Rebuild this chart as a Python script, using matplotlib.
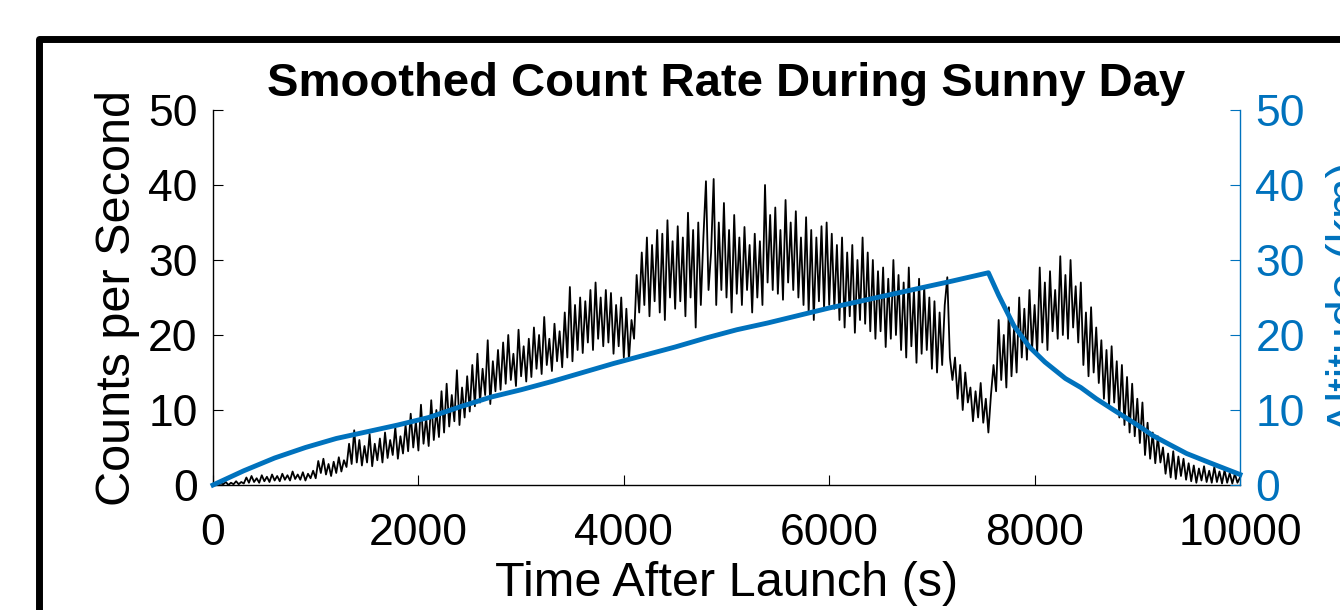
import numpy as np
import matplotlib
matplotlib.use('Agg')
import matplotlib.pyplot as plt
from matplotlib.patches import Rectangle

plt.rcParams['font.family'] = ['Liberation Sans', 'DejaVu Sans']

# counts per second, one reading every 25 s from 0 to 10000 s
count_step = 25
counts = [
    0.0, 0.3, 0.0, 0.2, 0.1, 0.4, 0.0, 0.3, 0.1, 0.5, 0.1, 0.4, 0.2,
    1.0, 0.3, 1.2, 0.4, 0.9, 0.3, 1.3, 0.5, 1.1, 0.4, 1.4, 0.6, 1.2, 0.5,
    1.5, 0.7, 1.3, 0.6, 1.8, 0.8, 1.4, 0.7, 1.7, 0.6, 1.5, 0.9, 1.9, 0.9,
    3.2, 1.6, 3.5, 1.4, 2.8, 1.2, 3.1, 1.6, 3.7, 1.8, 3.3,
    2.4, 5.5, 2.8, 7.3, 3.0,
    6.0, 2.6, 5.2, 3.0, 6.8, 2.5, 5.5, 3.3, 6.2, 3.0,
    7.0, 3.6, 6.0, 4.0, 7.7, 3.5, 6.5, 4.2,
    8.0, 4.5, 9.5, 5.0, 8.5, 4.6, 10.7, 5.5, 9.0, 5.2,
    11.3, 6.0, 10.0, 6.4,
    12.5, 7.0, 13.5, 7.8, 12.0, 8.5, 15.3, 8.0, 13.0, 9.0, 14.5, 9.8,
    16.0, 10.5, 17.5, 11.0, 15.5, 12.0, 19.3, 10.8, 16.5, 12.5, 18.0,
    12.7, 19.0, 13.5, 20.0, 14.0, 17.5, 13.2, 20.7, 14.5, 18.5, 13.8, 19.5,
    14.4, 21.0, 15.5, 20.0, 14.8, 22.4, 16.0, 19.5, 15.2, 21.5, 16.5, 20.5,
    15.7, 23.0, 17.0, 26.4, 16.5, 24.0, 18.0, 25.0,
    17.6, 24.5, 19.0, 26.0, 18.0, 27.0, 19.5, 25.0, 18.5, 26.0,
    19.0, 25.6, 17.5, 24.0, 18.5, 25.0, 17.0, 23.5, 16.7,
    22.0, 19.5, 28.0,
    23.0, 31.0, 24.0, 33.0, 22.5, 32.0,
    24.5, 34.0, 23.0, 33.5, 22.0, 35.3, 25.0, 32.5, 23.5, 34.5, 24.5, 33.0,
    22.5,
    36.3, 25.0, 34.0, 21.0, 35.0, 24.0, 33.0,
    40.5, 26.0, 31.0, 40.8, 24.0,
    35.0, 26.0, 37.6, 25.0, 34.0, 23.0, 36.0, 25.5,
    33.0, 24.0, 34.4, 26.0, 32.0, 23.0, 33.5, 25.0, 32.5, 24.0,
    40.0, 27.0,
    36.0, 26.0, 37.0, 25.5, 34.0, 24.7, 38.0, 27.0, 35.0, 26.0, 36.5, 25.0,
    33.0, 24.0, 35.7, 23.0, 34.0, 22.0, 33.0, 24.5, 34.5, 23.5, 35.0, 24.0,
    33.5, 23.5, 32.0, 22.0,
    33.0, 21.0, 31.0, 22.5, 32.0, 20.3, 30.0, 22.0, 33.0, 21.5, 31.0, 20.5,
    30.0, 19.5, 28.5, 20.5, 29.0, 18.4, 27.5, 19.5, 30.0, 20.0, 28.0,
    18.0, 27.0, 17.0, 29.0, 18.5, 26.0, 16.3, 27.5, 17.5, 26.5, 18.0, 25.0,
    15.5, 24.5, 15.0, 23.0, 16.0, 24.0, 27.7, 17.0, 14.0,
    17.0, 11.5, 16.0, 10.0, 15.0, 11.0,
    13.0, 8.5, 12.5, 9.0, 13.6, 8.3, 11.5, 7.0,
    12.0, 16.0, 12.5, 22.0, 14.0,
    20.0, 13.0, 23.7, 14.5, 21.0, 15.0,
    25.0, 17.0, 23.5, 16.7, 26.0, 18.0, 24.0, 17.5,
    29.0, 19.0, 27.0, 18.0, 28.5, 20.5, 26.0, 19.5, 30.5,
    20.0, 28.0, 19.5, 30.0, 21.0, 26.5, 19.0,
    27.0, 16.0, 23.0, 14.5, 23.7, 15.0, 21.0,
    13.6, 19.3, 11.5, 18.0, 10.5, 18.5, 11.0, 16.5, 9.0, 16.0,
    8.0, 14.4, 7.0, 13.5, 6.5, 11.5, 5.6, 11.0,
    4.0, 8.3, 3.5, 7.0, 2.9, 6.5, 3.0,
    5.0, 1.5, 4.2, 1.0, 4.5, 0.8, 3.8, 1.2, 3.5, 0.7,
    2.9, 0.5, 2.6, 0.3, 2.2, 0.6, 2.5, 0.4, 1.9, 0.3,
    2.4, 0.4, 1.8, 0.2, 2.0, 0.3, 1.6, 0.2, 1.5, 0.3, 1.0,
]
count_time = np.arange(len(counts)) * count_step

# balloon altitude (km)
alt_time = [0, 300, 600, 900, 1200, 1500, 1800, 2100, 2400, 2700,
            3000, 3300, 3600, 3900, 4200, 4500, 4800, 5100, 5400, 5700,
            6000, 6300, 6600, 6900, 7200, 7550, 7650, 7800, 7950, 8100,
            8300, 8450, 8600, 8770, 9000, 9150, 9300, 9480, 9700, 10000]
altitude = [0.0, 1.9, 3.6, 5.0, 6.2, 7.1, 8.0, 9.0, 10.4, 11.7,
            12.7, 13.8, 15.0, 16.2, 17.3, 18.4, 19.6, 20.7, 21.6, 22.6,
            23.6, 24.5, 25.4, 26.3, 27.2, 28.3, 25.3, 21.2, 18.4, 16.4,
            14.2, 13.0, 11.5, 10.0, 8.0, 6.6, 5.5, 4.2, 3.0, 1.4]

x_ticks = [0, 2000, 4000, 6000, 8000, 10000]
y_ticks = [0, 10, 20, 30, 40, 50]

blue = '#0072BD'
fs = 32      # tick labels
fs_lab = 35  # axis labels

fig = plt.figure(figsize=(13.4, 6.1), dpi=100)
ax = fig.add_axes([213 / 1340, 1 - 485 / 610, 1027 / 1340, 375 / 610])
ax2 = ax.twinx()

ax.plot(count_time, counts, color='k', linewidth=1.3, zorder=3)
ax2.plot(alt_time, altitude, color=blue, linewidth=3.5, clip_on=False,
         zorder=4)

ax.set_xlim(0, 10000)
ax.set_ylim(0, 50)
ax2.set_ylim(0, 50)
ax.set_xticks(x_ticks)
ax.set_yticks(y_ticks)
ax2.set_yticks(y_ticks)

ax.tick_params(axis='x', direction='in', length=7, width=0.8, pad=20,
               labelsize=fs, colors='k')
ax.tick_params(axis='y', direction='in', length=7, width=0.8, pad=11,
               labelsize=fs)
ax2.tick_params(axis='y', direction='in', length=7, width=0.8, pad=11,
                labelsize=fs, colors=blue)

for a in (ax, ax2):
    a.spines['top'].set_visible(False)
    a.patch.set_visible(False)
ax2.spines['left'].set_visible(False)
ax.spines['right'].set_visible(False)
ax2.spines['right'].set_color(blue)
ax2.spines['bottom'].set_visible(False)
for s in ('left', 'bottom'):
    ax.spines[s].set_linewidth(1.0)
ax2.spines['right'].set_linewidth(1.0)

ax.set_title('Smoothed Count Rate During Sunny Day', fontsize=34,
             fontweight='bold', pad=10)
ax.set_xlabel('Time After Launch (s)', fontsize=fs_lab, labelpad=5)
ax.set_ylabel('Counts per Second', fontsize=fs_lab, labelpad=6)
ax2.set_ylabel('Altitude (km)', fontsize=fs_lab, color=blue, labelpad=15)

# thick black frame around the panel, running off the right and bottom
frame = Rectangle((38.5 / 1340, -0.3), 1.5, 1.3 - 38.8 / 610,
                  transform=fig.transFigure, fill=False, edgecolor='k',
                  linewidth=5, joinstyle='round', clip_on=False)
fig.patches.append(frame)

fig.savefig('out.png', dpi=100, facecolor='white')
